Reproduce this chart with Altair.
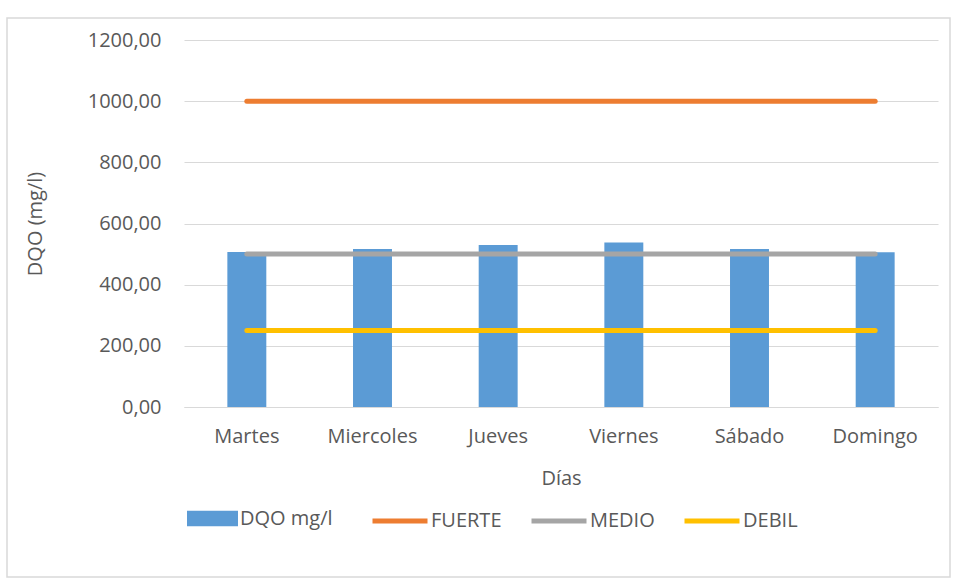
import altair as alt
import pandas as pd

dias = ["Martes", "Miercoles", "Jueves", "Viernes", "Sábado", "Domingo"]
dqo = [507, 517, 530, 538, 517, 506]
fuerte = [1000, 1000, 1000, 1000, 1000, 1000]
medio = [500, 500, 500, 500, 500, 500]
debil = [250, 250, 250, 250, 250, 250]
y_ticks = [0, 200, 400, 600, 800, 1000, 1200]

FONT = "Open Sans"
TXT = "#595959"
GRID = "#D9D9D9"

bars_df = pd.DataFrame({"dia": dias, "valor": dqo, "serie": "DQO mg/l"})
lines_df = pd.concat([
    pd.DataFrame({"dia": dias, "valor": fuerte, "serie": "FUERTE"}),
    pd.DataFrame({"dia": dias, "valor": medio, "serie": "MEDIO"}),
    pd.DataFrame({"dia": dias, "valor": debil, "serie": "DEBIL"}),
])

x_enc = alt.X("dia:N", sort=dias,
              scale=alt.Scale(paddingInner=0.69, paddingOuter=0.345),
              axis=alt.Axis(title="Días", labelAngle=0, grid=False, ticks=False,
                            domain=True, domainColor=GRID, domainWidth=1,
                            labelPadding=19, titlePadding=22))
y_enc = alt.Y("valor:Q",
              scale=alt.Scale(domain=[0, 1200], nice=False),
              axis=alt.Axis(title="DQO (mg/l)", values=y_ticks, grid=True, gridColor=GRID,
                            ticks=False, domain=False, labelPadding=23, titlePadding=42,
                            labelExpr="replace(format(datum.value, '.2f'), '.', ',')"))

bars = alt.Chart(bars_df).mark_bar(color="#5B9BD5").encode(
    x=x_enc, y=y_enc,
    fill=alt.Fill("serie:N", scale=alt.Scale(domain=["DQO mg/l"], range=["#5B9BD5"]),
                  legend=alt.Legend(title=None, orient="none", legendX=3, legendY=453,
                                    symbolType="M-1,-0.3H1V0.3H-1Z", symbolSize=2601,
                                    symbolStrokeWidth=0, labelOffset=2)),
)

lines = alt.Chart(lines_df).mark_line(strokeWidth=5, strokeCap="round").encode(
    x=alt.X("dia:N", sort=dias),
    y=alt.Y("valor:Q"),
    stroke=alt.Stroke("serie:N",
                      scale=alt.Scale(domain=["FUERTE", "MEDIO", "DEBIL"],
                                      range=["#ED7D31", "#A5A5A5", "#FFC000"]),
                      legend=alt.Legend(title=None, orient="none", legendX=186, legendY=451,
                                        direction="horizontal", columns=3,
                                        symbolType="stroke", symbolSize=3025,
                                        symbolStrokeWidth=5, labelOffset=1,
                                        columnPadding=19)),
    detail="serie:N",
)

border = alt.Chart(pd.DataFrame({"a": [0]})).mark_rect(
    fill=None, stroke=GRID, strokeWidth=1.5, clip=False
).encode(x=alt.value(-177), x2=alt.value(766), y=alt.value(-22), y2=alt.value(537))

chart = alt.layer(border, bars, lines).properties(
    width=754, height=367,
    background="white",
    autosize=alt.AutoSizeParams(type="none"),
    padding={"left": 184, "top": 40, "right": 16, "bottom": 174},
).configure_view(stroke=None).configure_axis(
    labelFont=FONT, titleFont=FONT, labelFontSize=20, titleFontSize=20,
    labelColor=TXT, titleColor=TXT, titleFontWeight="normal",
).configure_legend(
    labelFont=FONT, labelFontSize=20, labelColor=TXT, padding=0,
)

chart.save("out.html", embed_options={"renderer": "svg", "actions": False})
